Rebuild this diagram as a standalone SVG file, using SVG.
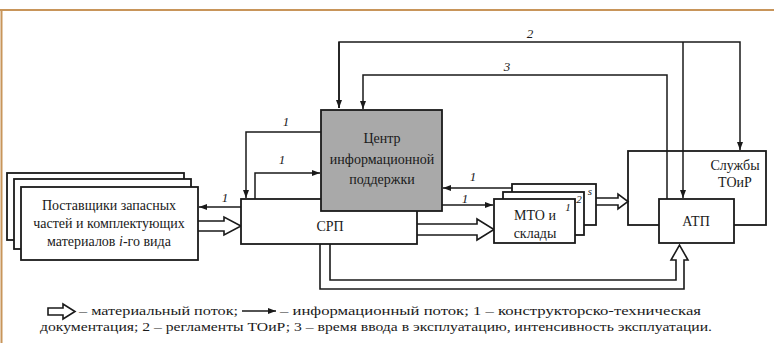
<svg xmlns="http://www.w3.org/2000/svg" width="774" height="354" viewBox="0 0 774 354" font-family="'Liberation Serif', 'Times New Roman', 'DejaVu Serif', serif">
<defs>
<marker id="ia" viewBox="0 0 8 6" refX="8" refY="3" markerWidth="8" markerHeight="6" orient="auto" markerUnits="userSpaceOnUse"><path d="M0,0 L8,3 L0,6 z" fill="#1a1a1a"/></marker>
<style>
.box{fill:#fff;stroke:#1a1a1a;stroke-width:1.8}
.grey{fill:#a9a9a9;stroke:#1a1a1a;stroke-width:1.8}
.t{font-family:'Liberation Serif','Times New Roman','DejaVu Serif',serif;font-size:14px;fill:#1a1a1a;text-anchor:middle}
.lab{font-family:'Liberation Serif','Times New Roman','DejaVu Serif',serif;font-size:13px;font-style:italic;fill:#1a1a1a;text-anchor:middle}
.sm{font-family:'Liberation Serif','Times New Roman','DejaVu Serif',serif;font-size:11px;font-style:italic;fill:#1a1a1a;text-anchor:middle}
.leg{font-family:'Liberation Serif','Times New Roman','DejaVu Serif',serif;font-size:13px;fill:#1a1a1a}
.info{fill:none;stroke:#1a1a1a;stroke-width:1.5}
.mat{fill:#fff;stroke:#1a1a1a;stroke-width:1.6;stroke-linejoin:miter}
</style>
</defs>
<rect width="774" height="354" fill="#fff"/>
<g id="frame">
<line x1="0" y1="10" x2="774" y2="10" stroke="#c8955a" stroke-width="2"/>
<line x1="1.5" y1="10" x2="1.5" y2="343" stroke="#c8955a" stroke-width="2"/>
</g>

<g id="connectors">
<path class="info" d="M339,108 V42 H740 V150" marker-end="url(#ia)"/>
<path class="info" d="M339,42 V108" marker-end="url(#ia)"/>
<path class="info" d="M683,42 V198" marker-end="url(#ia)"/>
<path class="info" d="M667,199 V75 H363 V109" marker-end="url(#ia)" stroke-width="2"/>
<path class="info" d="M321,132 H246 V198" marker-end="url(#ia)"/>
<path class="info" d="M255,199 V173 H320" marker-end="url(#ia)"/>
<path class="info" d="M241,207 H199" marker-end="url(#ia)"/>
<path class="info" d="M512,188 H443" marker-end="url(#ia)"/>
<path class="info" d="M442,205 H493" marker-end="url(#ia)"/>
<path class="mat" d="M198,221 H224 V217 L241,226 L224,235 V231 H198"/>
<path class="mat" d="M417,224 H477 V219 L494,229.5 L477,240 V235 H417"/>
<path class="mat" d="M596,198 H618 V194 L628,201.5 L618,209 V205 H596"/>
<path class="mat" style="fill:none" d="M320,244 V289 H684 V260 H688 L679.5,245 L671,260 H676 V280 H330 V244"/>
</g>

<g id="suppliers">
<rect class="box" x="7" y="173" width="177" height="67"/>
<rect class="box" x="14" y="179" width="177" height="70"/>
<rect class="box" x="21" y="187" width="177" height="73"/>
<text class="t" x="109" y="210">Поставщики запасных</text>
<text class="t" x="109" y="228">частей и комплектующих</text>
<text class="t" x="109" y="246">материалов <tspan font-style="italic">i</tspan>-го вида</text>
</g>

<g id="srp">
<rect class="box" x="241" y="199" width="176" height="45"/>
<text class="t" x="330" y="231">СРП</text>
</g>

<g id="center">
<rect class="grey" x="321" y="110" width="121" height="101"/>
<text class="t" x="382" y="143">Центр</text>
<text class="t" x="382" y="164">информационной</text>
<text class="t" x="382" y="184">поддержки</text>
</g>

<g id="mto">
<rect class="box" x="512" y="184" width="84" height="41"/>
<rect class="box" x="503" y="192" width="81" height="43"/>
<rect class="box" x="494" y="199" width="81" height="44"/>
<text class="t" x="535" y="220">МТО и</text>
<text class="t" x="535" y="238">склады</text>
<text class="sm" x="568" y="211">1</text>
<text class="sm" x="579" y="203">2</text>
<text class="sm" x="590" y="195">s</text>
</g>

<g id="services">
<rect class="box" x="628" y="151" width="138" height="74" style="fill:none"/>
<text class="t" x="735" y="170">Службы</text>
<text class="t" x="735" y="187">ТОиР</text>
</g>

<g id="atp">
<rect class="box" x="659" y="199" width="75" height="44"/>
<text class="t" x="696" y="226">АТП</text>
</g>

<g id="labels">
<text class="lab" x="530" y="38">2</text>
<text class="lab" x="507" y="71">3</text>
<text class="lab" x="286" y="126">1</text>
<text class="lab" x="282" y="164">1</text>
<text class="lab" x="225" y="202">1</text>
<text class="lab" x="473" y="181">1</text>
<text class="lab" x="465" y="203">1</text>
</g>

<g id="legend">
<path class="mat" d="M48,308 H63 V304 L75,311.5 L63,319 V315 H48 Z"/>
<text class="leg" x="79" y="315" textLength="159" lengthAdjust="spacingAndGlyphs">– материальный поток;</text>
<line class="info" x1="242" y1="311" x2="276" y2="311" marker-end="url(#ia)"/>
<text class="leg" x="280" y="315" textLength="421" lengthAdjust="spacingAndGlyphs">– информационный поток; 1 – конструкторско-техническая</text>
<text class="leg" x="40" y="331" textLength="672" lengthAdjust="spacingAndGlyphs">документация; 2 – регламенты ТОиР; 3 – время ввода в эксплуатацию, интенсивность эксплуатации.</text>
</g>
</svg>
